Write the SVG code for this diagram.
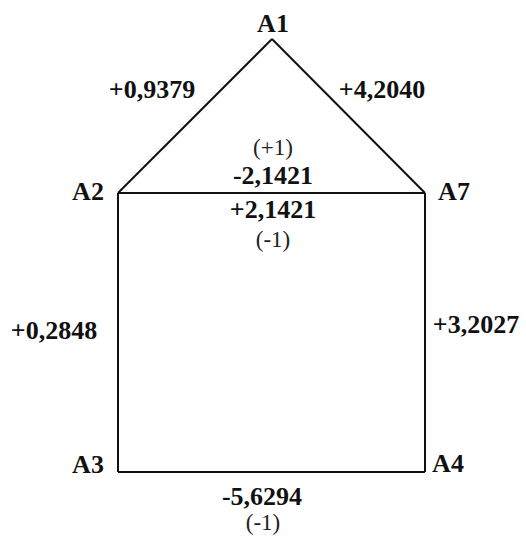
<svg xmlns="http://www.w3.org/2000/svg" width="526" height="537" viewBox="0 0 526 537">
<style>
.b{font-family:'Liberation Serif','Times New Roman','DejaVu Serif',serif;font-weight:bold;font-size:26px;fill:#111}
.r{font-family:'Liberation Serif','Times New Roman','DejaVu Serif',serif;font-size:23px;fill:#222}
.e{stroke:#111;stroke-width:2;fill:none}
</style>
<rect width="526" height="537" fill="#fff"/>
<g id="connectors">
<line class="e" x1="118" y1="193" x2="272" y2="39"/>
<line class="e" x1="272" y1="39" x2="425" y2="193"/>
<line class="e" x1="118" y1="193" x2="425" y2="193"/>
<line class="e" x1="118" y1="193" x2="118" y2="472"/>
<line class="e" x1="425" y1="193" x2="425" y2="472"/>
<line class="e" x1="118" y1="472" x2="425" y2="472"/>
</g>
<g id="A1"><text class="b" x="273" y="32" text-anchor="middle">A1</text></g>
<g id="A2"><text class="b" x="88" y="200" text-anchor="middle">A2</text></g>
<g id="A7"><text class="b" x="454" y="200" text-anchor="middle">A7</text></g>
<g id="A3"><text class="b" x="88" y="473" text-anchor="middle">A3</text></g>
<g id="A4"><text class="b" x="448" y="472" text-anchor="middle">A4</text></g>
<g id="labels">
<text class="b" x="152" y="98" text-anchor="middle">+0,9379</text>
<text class="b" x="382" y="98" text-anchor="middle">+4,2040</text>
<text class="r" x="273" y="155" text-anchor="middle">(+1)</text>
<text class="b" x="273" y="184" text-anchor="middle">-2,1421</text>
<text class="b" x="273" y="218" text-anchor="middle">+2,1421</text>
<text class="r" x="273" y="247" text-anchor="middle">(-1)</text>
<text class="b" x="54" y="339" text-anchor="middle">+0,2848</text>
<text class="b" x="476" y="333" text-anchor="middle">+3,2027</text>
<text class="b" x="262" y="505" text-anchor="middle">-5,6294</text>
<text class="r" x="263" y="530" text-anchor="middle">(-1)</text>
</g>
</svg>
